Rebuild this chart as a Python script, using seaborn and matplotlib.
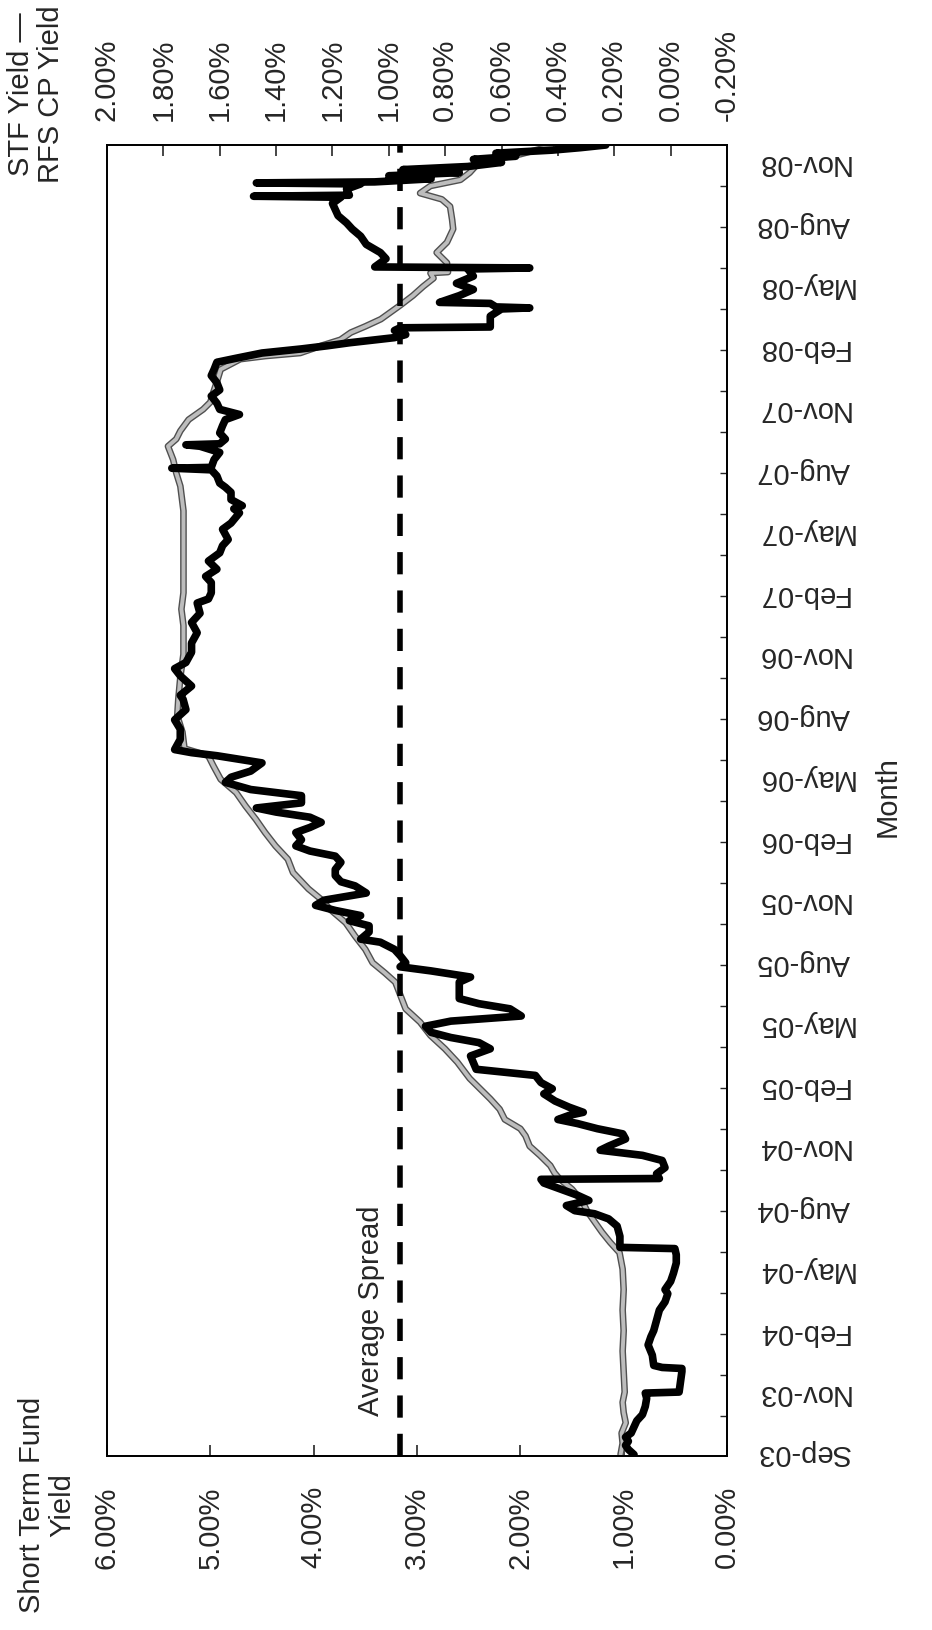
import matplotlib
matplotlib.use("Agg")
import matplotlib.pyplot as plt
import matplotlib.patheffects as pe
import pandas as pd
import seaborn as sns

# time is in months counted from 1 Sep 2003
month_labels = ["Sep-03", "Nov-03", "Feb-04", "May-04", "Aug-04", "Nov-04",
                "Feb-05", "May-05", "Aug-05", "Nov-05", "Feb-06", "May-06",
                "Aug-06", "Nov-06", "Feb-07", "May-07", "Aug-07", "Nov-07",
                "Feb-08", "May-08", "Aug-08", "Nov-08"]
month_pos = [-0.93] + list(range(2, 63, 3))

yield_ticks = [0, 1, 2, 3, 4, 5, 6]
spread_ticks = [-0.2, 0.0, 0.2, 0.4, 0.6, 0.8, 1.0, 1.2, 1.4, 1.6, 1.8, 2.0]
avg_spread = 0.96

# Short Term Fund yield (grey line, bottom axis)
stf_t = [-1.05, -0.5, 0.0, 0.5, 1.0, 1.5, 2.0, 3.0, 4.0, 5.0, 6.0, 7.0, 8.0,
         8.8, 9.3, 9.8, 10.3, 10.8, 11.3, 11.9, 12.4, 12.7, 13.05, 13.55,
         14.0, 14.5, 14.85, 15.3, 15.8, 16.3, 16.8, 17.3, 18.1, 18.75, 19.4,
         20.05, 20.7, 21.35, 22.0, 22.45, 22.95, 23.6, 24.25, 24.9, 25.55,
         26.05, 26.55, 27.35, 28.0, 28.65, 29.3, 29.95, 30.6, 31.25, 31.9,
         32.55, 33.05, 33.4, 34.2, 35.0, 35.8, 36.9, 38.0, 39.4, 40.2, 41.0,
         42.0, 43.4, 44.1, 45.0, 46.2, 46.85, 47.5, 48.15, 48.5, 48.9, 49.45,
         49.95, 50.3, 50.8, 51.4, 51.9, 52.4, 52.55, 52.7, 53.05, 53.35, 53.7,
         54.0, 54.35, 55.0, 55.5, 55.95, 56.35, 56.6, 56.65, 57.1, 57.6, 58.1,
         58.75, 59.2, 59.85, 60.2, 60.5, 60.85, 61.15, 61.5, 62.0, 62.4, 62.8]
stf_yield = [1.03, 1.01, 1.02, 0.98, 1.00, 1.01, 0.99, 1.00, 1.01, 1.00, 1.01,
             1.00, 1.01, 1.04, 1.13, 1.21, 1.28, 1.35, 1.40, 1.50, 1.62, 1.67,
             1.71, 1.81, 1.91, 1.95, 2.00, 2.15, 2.20, 2.29, 2.39, 2.49, 2.61,
             2.73, 2.87, 2.97, 3.11, 3.16, 3.21, 3.31, 3.43, 3.50, 3.60, 3.69,
             3.84, 3.93, 4.05, 4.20, 4.25, 4.37, 4.47, 4.56, 4.66, 4.75, 4.90,
             4.97, 5.02, 5.25, 5.27, 5.32, 5.31, 5.29, 5.26, 5.26, 5.28, 5.26,
             5.26, 5.26, 5.26, 5.26, 5.29, 5.33, 5.36, 5.41, 5.33, 5.29, 5.21,
             5.07, 5.00, 4.97, 4.93, 4.90, 4.71, 4.47, 4.13, 3.93, 3.74, 3.64,
             3.50, 3.35, 3.17, 3.04, 2.94, 2.84, 2.87, 2.70, 2.71, 2.81, 2.71,
             2.65, 2.66, 2.68, 2.76, 2.97, 2.87, 2.58, 2.49, 2.40, 2.00, 1.70]

# STF yield minus RFS CP yield (black line, top axis)
spread_t = [-1.05, -0.8, -0.6, -0.4, -0.2, 0.0, 0.3, 0.6, 0.9, 1.3, 1.7, 1.95,
            2.0, 2.5, 3.0, 3.15, 3.2, 3.3, 3.8, 4.3, 4.7, 5.0, 5.5, 6.0, 6.4,
            6.8, 7.0, 7.4, 7.8, 8.3, 8.7, 9.0, 9.06, 9.6, 10.1, 10.45, 10.7,
            10.85, 11.1, 11.35, 11.6, 11.9, 12.2, 12.38, 12.42, 12.65, 12.95,
            13.3, 13.55, 13.8, 14.0, 14.35, 14.6, 14.85, 15.1, 15.3, 15.5,
            15.65, 15.9, 16.2, 16.55, 16.8, 17.1, 17.45, 17.75, 18.4, 18.75,
            19.05, 19.3, 19.55, 19.85, 20.1, 20.35, 20.7, 20.95, 21.2, 21.65,
            22.0, 22.25, 22.55, 22.75, 22.95, 23.3, 23.6, 23.95, 24.1, 24.45,
            24.75, 25.0, 25.25, 25.5, 25.75, 26.0, 26.35, 26.7, 26.9, 27.2,
            27.5, 27.85, 28.15, 28.4, 28.65, 28.95, 29.3, 29.55, 29.8, 30.05,
            30.3, 30.5, 30.75, 31.1, 31.4, 31.75, 32.0, 32.3, 32.7, 33.05,
            33.2, 33.35, 33.85, 34.35, 34.8, 35.3, 35.8, 36.0, 36.45, 36.95,
            37.3, 37.6, 38.1, 38.55, 39.05, 39.55, 40.0, 40.5, 40.7, 41.0,
            41.5, 41.8, 42.15, 42.55, 42.95, 43.3, 43.6, 44.1, 44.4, 44.9,
            45.1, 45.25, 45.55, 45.9, 46.15, 46.35, 46.7, 47.0, 47.08, 47.12,
            47.5, 47.85, 48.15, 48.22, 48.27, 48.5, 48.8, 49.15, 49.45, 49.7,
            49.95, 50.25, 50.6, 50.9, 51.25, 51.6, 51.9, 52.25, 52.45, 52.7,
            52.9, 53.05, 53.2, 53.45, 53.6, 53.8, 53.93, 53.97, 54.5, 54.85,
            54.9, 54.95, 55.12, 55.17, 55.5, 55.8, 56.1, 56.45, 56.8, 56.85,
            56.9, 57.3, 57.6, 58.0, 58.4, 58.75, 59.05, 59.4, 59.7, 60.0,
            60.3, 60.35, 60.4, 60.7, 60.95, 61.0, 61.05, 61.2, 61.35, 61.5,
            61.65, 61.8, 62.0, 62.15, 62.3, 62.45, 62.6, 62.72, 62.85]
spread = [0.13, 0.15, 0.16, 0.15, 0.16, 0.14, 0.13, 0.12, 0.10, 0.09, 0.085,
          0.09, -0.03, -0.035, -0.04, -0.04, 0.03, 0.06, 0.065, 0.08, 0.07,
          0.06, 0.05, 0.04, 0.02, 0.01, 0.02, 0.0, -0.01, -0.02, -0.02,
          -0.015, 0.18, 0.18, 0.19, 0.22, 0.27, 0.34, 0.37, 0.29, 0.33, 0.39,
          0.45, 0.46, 0.04, 0.05, 0.02, 0.03, 0.10, 0.25, 0.22, 0.16, 0.17,
          0.26, 0.33, 0.40, 0.36, 0.31, 0.36, 0.41, 0.45, 0.42, 0.46, 0.48,
          0.69, 0.71, 0.64, 0.68, 0.78, 0.85, 0.87, 0.78, 0.53, 0.57, 0.68,
          0.75, 0.75, 0.75, 0.71, 0.85, 0.96, 0.94, 0.96, 0.98, 1.03, 1.10,
          1.07, 1.07, 1.14, 1.10, 1.19, 1.26, 1.23, 1.08, 1.12, 1.17, 1.19,
          1.19, 1.17, 1.19, 1.28, 1.33, 1.31, 1.33, 1.28, 1.24, 1.28, 1.40,
          1.47, 1.31, 1.31, 1.49, 1.58, 1.56, 1.49, 1.45, 1.61, 1.70, 1.76,
          1.74, 1.74, 1.76, 1.72, 1.73, 1.74, 1.70, 1.74, 1.76, 1.72, 1.70,
          1.70, 1.68, 1.70, 1.67, 1.68, 1.64, 1.63, 1.63, 1.65, 1.61, 1.64,
          1.60, 1.59, 1.57, 1.59, 1.56, 1.53, 1.55, 1.52, 1.56, 1.56, 1.58,
          1.60, 1.61, 1.63, 1.77, 1.63, 1.62, 1.60, 1.67, 1.72, 1.60, 1.58,
          1.60, 1.59, 1.58, 1.53, 1.60, 1.61, 1.63, 1.60, 1.61, 1.63, 1.62,
          1.61, 1.54, 1.45, 1.31, 1.22, 1.14, 0.98, 0.94, 0.98, 0.96, 0.64,
          0.64, 0.60, 0.50, 0.62, 0.64, 0.82, 0.75, 0.70, 0.76, 0.70, 0.72,
          0.50, 1.05, 1.01, 1.03, 1.08, 1.10, 1.13, 1.15, 1.18, 1.19, 1.20,
          1.17, 1.48, 1.14, 1.15, 1.10, 1.47, 1.05, 0.85, 1.00, 0.75, 0.95,
          0.72, 0.60, 0.70, 0.55, 0.62, 0.42, 0.32, 0.23]

stf = pd.DataFrame({"t": stf_t, "y": stf_yield})
spr = pd.DataFrame({"t": spread_t, "s": spread})

sns.set_style("white")
plt.rcParams["font.family"] = ["Liberation Sans", "DejaVu Sans"]
plt.rcParams["font.size"] = 21

fig = plt.figure(figsize=(9.32, 16.31), dpi=100)
ax = fig.add_axes([107 / 932, 1 - 1457 / 1631, 620 / 932, 1311 / 1631])

sns.lineplot(data=stf, x="y", y="t", sort=False, estimator=None, ax=ax,
             color="#bdbdbd", lw=2.8, solid_joinstyle="round",
             path_effects=[pe.Stroke(linewidth=4.8, foreground="#505050"), pe.Normal()])
ax.set_xlim(6, 0)
ax.set_ylim(-1.12, 62.85)

ax2 = ax.twiny()
sns.lineplot(data=spr, x="s", y="t", sort=False, estimator=None, ax=ax2,
             color="black", lw=5.5, solid_joinstyle="round", solid_capstyle="round")
ax2.axvline(avg_spread, color="black", lw=4, dashes=(4, 2.9))
ax2.set_xlim(2.0, -0.2)
ax2.annotate("Average Spread", xy=(avg_spread, 6.0), xytext=(-21, 0),
             textcoords="offset points", rotation=90, ha="center", va="center")

ax.set_xticks(yield_ticks)
ax.set_xticklabels([f"{v:.2f}%" for v in yield_ticks])
ax.tick_params(axis="x", direction="in", length=8, width=1.2, pad=21, labelrotation=90)
ax2.set_xticks(spread_ticks)
ax2.set_xticklabels([f"{v:.2f}%".replace("-0.00", "0.00") for v in spread_ticks])
ax2.tick_params(axis="x", direction="in", length=8, width=1.2, pad=18, labelrotation=90)

ax.yaxis.tick_right()
ax.set_yticks(month_pos)
ax.set_yticklabels(month_labels)
ax.set_yticks([0.85 + 2 * k for k in range(31)], minor=True)
ax.tick_params(axis="y", which="major", length=0, pad=21, labelrotation=180)
ax.tick_params(axis="y", which="minor", direction="in", length=5, width=1, right=True, left=False)
for lab in ax.get_yticklabels():
    lab.set_va("center")

ax.set_xlabel("")
ax.set_ylabel("")
ax2.set_xlabel("")
for a in (ax, ax2):
    for sp in a.spines.values():
        sp.set_linewidth(1.3)
        sp.set_color("black")

fig.text(47 / 932, 1 - 1505 / 1631, "Short Term Fund\nYield", rotation=90,
         ha="center", va="center", multialignment="center", linespacing=1.1)
fig.text(36 / 932, 1 - 94 / 1631, "STF Yield \u2014\nRFS CP Yield", rotation=90,
         ha="center", va="center", multialignment="center", linespacing=1.1)
fig.text(888 / 932, 1 - 797 / 1631, "Month", rotation=90, ha="center", va="center")

fig.savefig("out.png", dpi=100)
